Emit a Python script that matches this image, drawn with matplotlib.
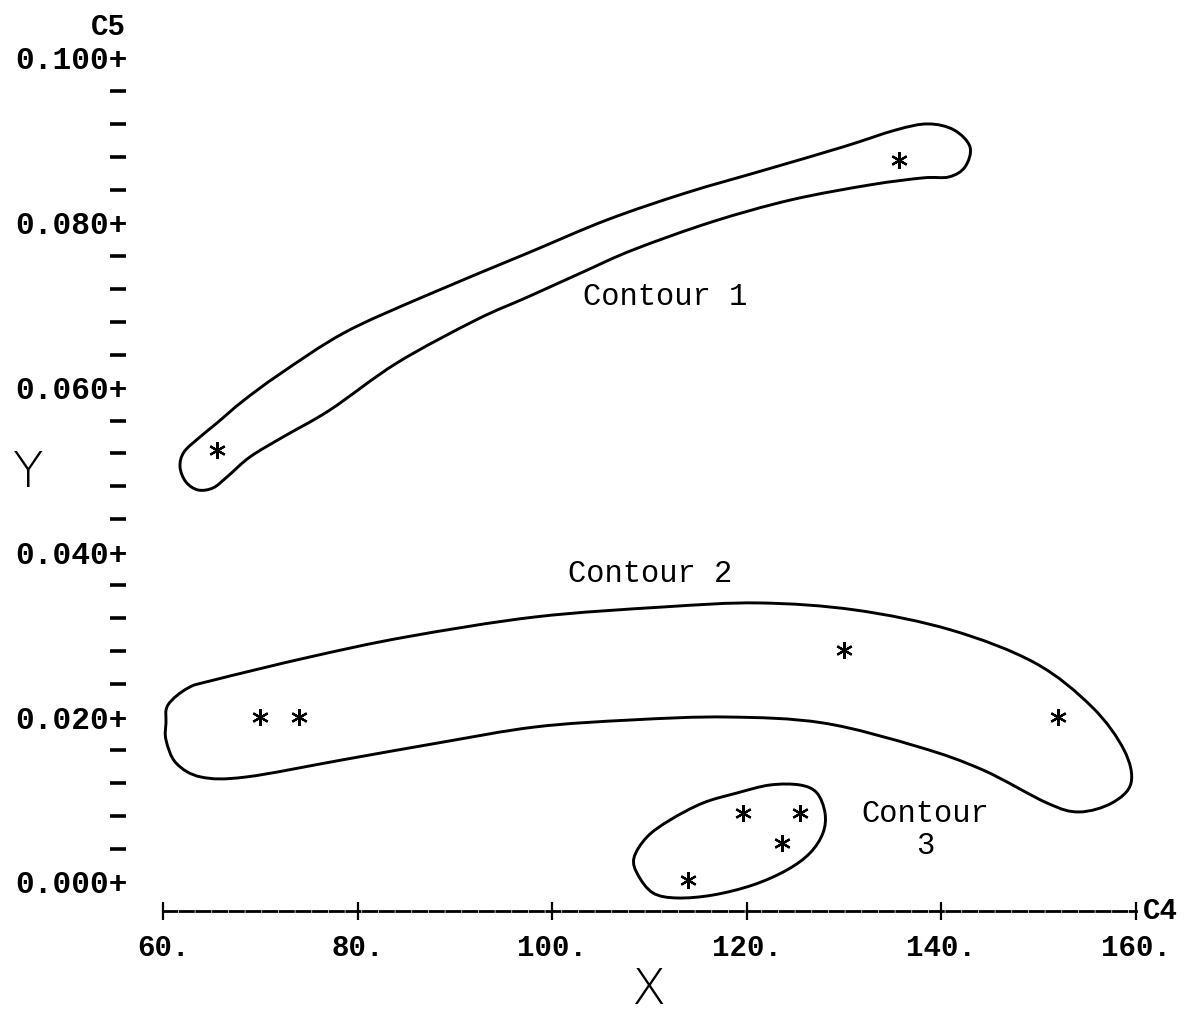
import matplotlib
matplotlib.use("Agg")
import matplotlib.pyplot as plt
from matplotlib.path import Path
from matplotlib.patches import PathPatch
from matplotlib.ticker import FixedLocator, FixedFormatter

plt.rcParams['lines.scale_dashes'] = False

# ---- data (x = C4, y = C5) ----
group1_x = [65.6, 135.6]
group1_y = [0.0524, 0.0876]
group2_x = [70.0, 74.0, 130.0, 152.0]
group2_y = [0.020, 0.020, 0.0282, 0.020]
group3_x = [114.0, 119.6, 125.5, 123.6]
group3_y = [0.0002, 0.0084, 0.0084, 0.0047]

# hand-drawn contour outlines (traced vertices)
contour1_x = [62.16, 63.80, 65.55, 68.22, 72.02, 78.60, 86.72, 97.51, 105.63, 113.75, 121.87, 129.89,
              135.33, 138.62, 141.29, 142.94, 142.43, 140.78, 138.11, 132.66, 124.54, 116.42,
              108.30, 102.96, 97.51, 92.17, 84.05, 77.16, 72.33, 68.94, 66.58, 65.14, 63.60,
              62.36, 61.75]
contour1_y = [0.05218, 0.05400, 0.05570, 0.05837, 0.06165, 0.06663, 0.07100, 0.07633, 0.08034, 0.08362,
              0.08641, 0.08920, 0.09126, 0.09199, 0.09126, 0.08920, 0.08677, 0.08556, 0.08544, 0.08459,
              0.08277, 0.08010, 0.07670, 0.07391, 0.07100, 0.06820, 0.06299, 0.05728, 0.05400, 0.05158,
              0.04915, 0.04782, 0.04757, 0.04854, 0.05036]

contour2_x = [60.31, 60.51, 62.57, 65.24, 75.11, 84.97, 98.23, 111.39, 121.25, 131.12, 140.99,
              149.62, 155.48, 158.77, 159.49, 157.53, 154.14, 150.85, 144.27, 137.70, 127.83,
              117.97, 108.10, 98.23, 88.26, 78.40, 68.53, 63.91, 61.34, 60.31]
contour2_y = [0.01930, 0.02148, 0.02354, 0.02451, 0.02731, 0.02973, 0.03216, 0.03337, 0.03386, 0.03301,
              0.03058, 0.02658, 0.02124, 0.01602, 0.01201, 0.00959, 0.00850, 0.00959, 0.01359, 0.01638,
              0.01930, 0.02002, 0.01966, 0.01881, 0.01687, 0.01481, 0.01274, 0.01274, 0.01444, 0.01723]

contour3_x = [108.40, 108.82, 110.36, 112.83, 116.53, 120.64, 124.13, 126.50, 127.83, 128.04,
              127.21, 125.47, 122.38, 118.99, 115.50, 112.11, 109.74]
contour3_y = [0.00291, 0.00085, -0.00133, -0.00194, -0.00158, -0.00036, 0.00146, 0.00352, 0.00595,
              0.00837, 0.01080, 0.01177, 0.01177, 0.01080, 0.00959, 0.00752, 0.00546]

contour_labels = ["Contour 1", "Contour 2", "Contour\n3"]

x_ticks = [60, 80, 100, 120, 140, 160]
x_ticklabels = ["60.", "80.", "100.", "120.", "140.", "160."]
y_ticks = [0.000, 0.020, 0.040, 0.060, 0.080, 0.100]
y_ticklabels = ["0.000+", "0.020+", "0.040+", "0.060+", "0.080+", "0.100+"]
y_minor = [i * 0.004 for i in range(26) if i % 5 != 0]


def smooth_closed_path(xs, ys):
    """Closed Catmull-Rom curve through the traced vertices, as cubic Bezier path."""
    pts = list(zip(xs, ys))
    n = len(pts)
    verts = [pts[0]]
    codes = [Path.MOVETO]
    for i in range(n):
        p0 = pts[(i - 1) % n]
        p1 = pts[i]
        p2 = pts[(i + 1) % n]
        p3 = pts[(i + 2) % n]
        c1 = (p1[0] + (p2[0] - p0[0]) / 6, p1[1] + (p2[1] - p0[1]) / 6)
        c2 = (p2[0] - (p3[0] - p1[0]) / 6, p2[1] - (p3[1] - p1[1]) / 6)
        verts += [c1, c2, p2]
        codes += [Path.CURVE4] * 3
    return Path(verts, codes)


W, H = 1186, 1013
fig = plt.figure(figsize=(W / 100, H / 100), dpi=100)
ax = fig.add_axes([118 / W, 102 / H, 1068 / W, 891 / H])
ax.set_xlim(55.375, 165.14)
ax.set_ylim(-0.00352, 0.1046)

mono = "Liberation Mono"

# contours
for cx, cy in [(contour1_x, contour1_y), (contour2_x, contour2_y), (contour3_x, contour3_y)]:
    ax.add_patch(PathPatch(smooth_closed_path(cx, cy), facecolor="none", edgecolor="black",
                           lw=2.1, joinstyle="round", zorder=2))

# points
for gx, gy in [(group1_x, group1_y), (group2_x, group2_y), (group3_x, group3_y)]:
    ax.plot(gx, gy, linestyle="none", marker=(6, 2, 0), ms=12, mew=1.6,
            color="black", zorder=3)

# labels
ax.text(111.6, 0.0710, contour_labels[0], family=mono, fontsize=22, ha="center", va="center")
ax.text(110.05, 0.0374, contour_labels[1], family=mono, fontsize=22, ha="center", va="center")
ax.text(138.3, 0.0063, contour_labels[2], family=mono, fontsize=22, ha="center", va="center",
        linespacing=1.05)

# spines
for s in ["top", "right", "left"]:
    ax.spines[s].set_visible(False)
ax.spines["bottom"].set_bounds(60, 160)
ax.spines["bottom"].set_linestyle((0, (9.5, 2.5)))
ax.spines["bottom"].set_linewidth(2.0)

# x ticks
ax.set_xticks(x_ticks)
ax.set_xticklabels(x_ticklabels, family=mono, fontsize=21, fontweight="bold")
ax.tick_params(axis="x", which="major", direction="inout", length=13, width=1.6, pad=10)

# y ticks
ax.yaxis.set_major_locator(FixedLocator(y_ticks))
ax.yaxis.set_major_formatter(FixedFormatter(y_ticklabels))
ax.yaxis.set_minor_locator(FixedLocator(y_minor))
for lbl in ax.get_yticklabels():
    lbl.set_family(mono)
    lbl.set_fontsize(22.5)
    lbl.set_fontweight("bold")
ax.tick_params(axis="y", which="major", length=0, pad=-6.8)
ax.tick_params(axis="y", which="minor", direction="inout", length=11, width=2.6)

# axis names
ax.annotate("C4", xy=(160, -0.00352), xytext=(5, 0), textcoords="offset points",
            family=mono, fontsize=21, fontweight="bold", ha="left", va="center",
            annotation_clip=False)
fig.text(126 / W, 1 - 27 / H, "C5", family=mono, fontsize=21, fontweight="bold",
         ha="right", va="center")
fig.text(28 / W, 1 - 473 / H, "Y", fontsize=36, fontweight="light", ha="center", va="center")
fig.text(648 / W, 1 - 990 / H, "X", fontsize=36, fontweight="light", ha="center", va="center")

fig.savefig("out.png", dpi=100, facecolor="white")
